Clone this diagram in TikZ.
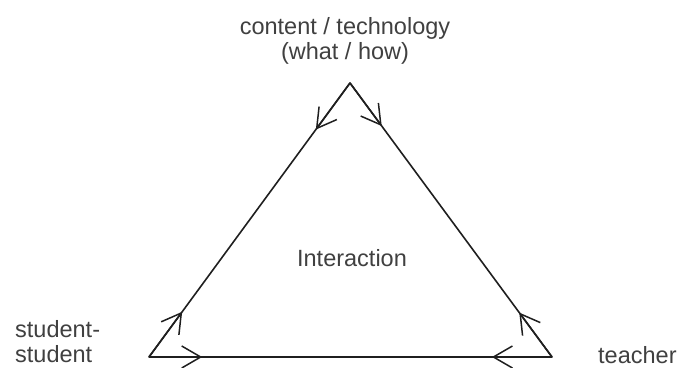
\documentclass[tikz,border=0pt]{standalone}
\usepackage{fontspec}
\setmainfont{Liberation Sans}
\usetikzlibrary{arrows.meta,calc}
\tikzset{
  edge/.style={line width=1.6pt, draw=black!88, line cap=round, line join=round},
  halfarrow/.style={line width=1.6pt, draw=black!88, -{Straight Barb[length=19pt,width=22pt,line width=1.5pt]}},
  lbl/.style={inner sep=0pt, text=black!75, font=\fontsize{23.5}{25}\selectfont}
}
\begin{document}
\begin{tikzpicture}[x=1pt,y=-1pt]
\useasboundingbox (0,0) rectangle (679,367);
\coordinate (A) at (350,83);
\coordinate (L) at (149,357);
\coordinate (R) at (552,357);
\draw[edge] (A) -- (L) -- (R) -- cycle;
\draw[halfarrow] (A) -- ($(A)!0.17!(L)$);
\draw[halfarrow] (A) -- ($(A)!0.157!(R)$);
\draw[halfarrow] (L) -- ($(L)!0.165!(A)$);
\draw[halfarrow] (R) -- ($(R)!0.162!(A)$);
\draw[halfarrow] (L) -- ($(L)!0.132!(R)$);
\draw[halfarrow] (R) -- ($(R)!0.149!(L)$);
\node[lbl, anchor=north, align=center] (ct) at (345,17) {content / technology\\(what / how)};
\node[lbl, anchor=base] (ia) at (352,266) {Interaction};
\node[lbl, anchor=north west, align=left] (ss) at (15,320) {student-\\student};
\node[lbl, anchor=base west] (te) at (598,363) {teacher};
\end{tikzpicture}
\end{document}
